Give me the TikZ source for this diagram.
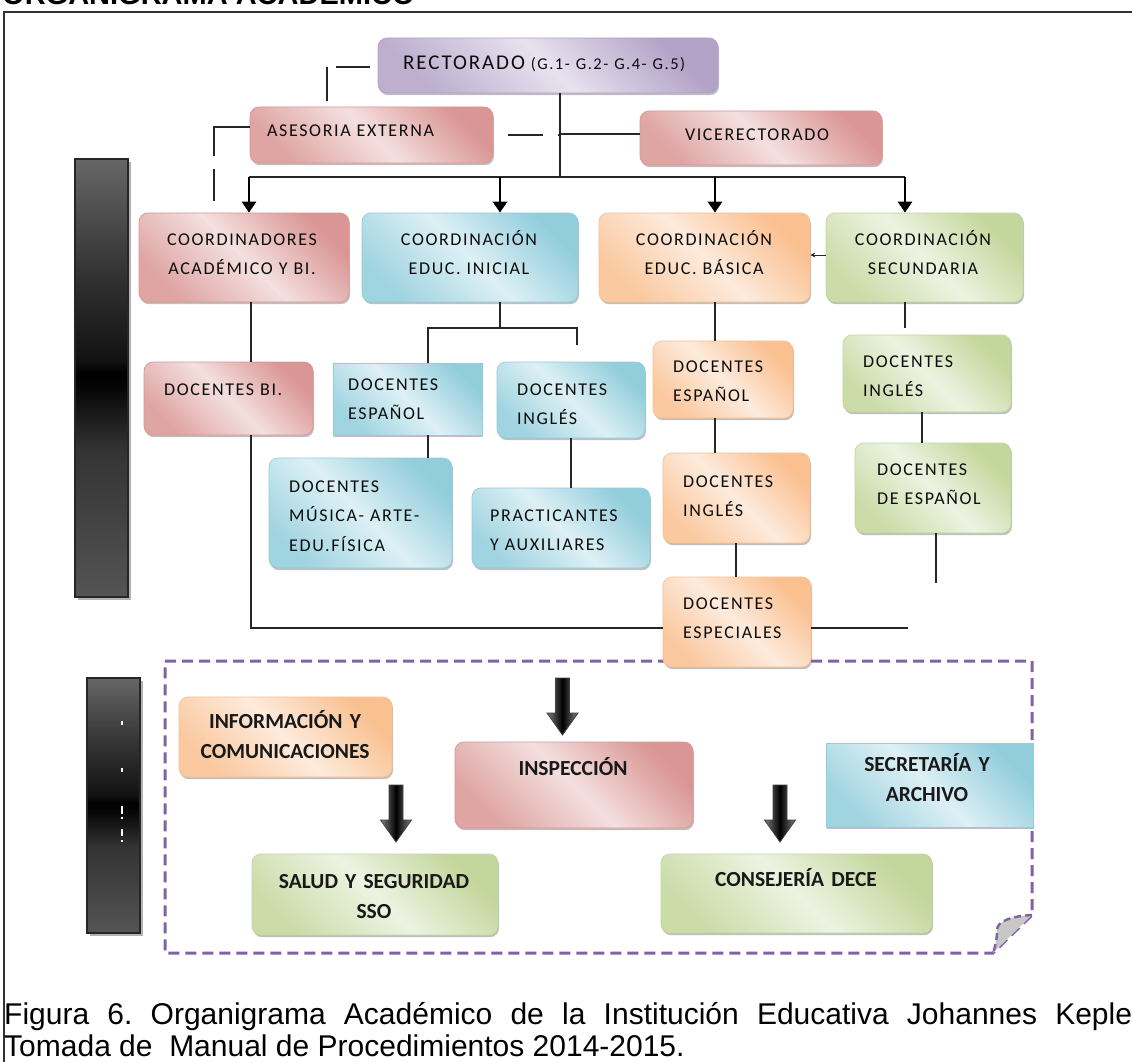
\documentclass[tikz,border=0pt]{standalone}
\usepackage{fontspec}
\setmainfont{Liberation Sans}
\newfontfamily\cfont[LetterSpace=9]{Carlito}
\newfontfamily\cbfont{Carlito}
\usetikzlibrary{arrows.meta,shadows}
\definecolor{purL}{HTML}{E8E2EF}\definecolor{purD}{HTML}{B3A2C7}
\definecolor{redL}{HTML}{F4E0DF}\definecolor{redD}{HTML}{D99694}
\definecolor{bluL}{HTML}{DDF0F5}\definecolor{bluD}{HTML}{92CDDC}
\definecolor{orgL}{HTML}{FDEBDD}\definecolor{orgD}{HTML}{FAC090}
\definecolor{grnL}{HTML}{EDF3E2}\definecolor{grnD}{HTML}{C3D69B}
\definecolor{frm}{HTML}{8064A2}
\pgfdeclareverticalshading{barshade}{100bp}{color(0bp)=(black!67); color(25bp)=(black!67); color(42bp)=(black!80); color(49bp)=(black!98); color(50.5bp)=(black); color(52bp)=(black!93); color(62bp)=(black!80); color(75bp)=(black!60); color(100bp)=(black!60)}
\tikzset{
  bx/.style={inner sep=0pt, rounded corners=9pt, line width=0.7pt,
    drop shadow={shadow xshift=1pt, shadow yshift=-2.2pt, fill=black!55, opacity=0.45}},
  fPur/.style={bx, draw=purD, left color=purD!80!purL, right color=purD, middle color=purL, shading angle=135},
  fRed/.style={bx, draw=redD, left color=redD!80!redL, right color=redD, middle color=redL, shading angle=135},
  fBlu/.style={bx, draw=bluD, left color=bluD!80!bluL, right color=bluD, middle color=bluL, shading angle=135},
  fOrg/.style={bx, draw=orgD, left color=orgD!80!orgL, right color=orgD, middle color=orgL, shading angle=135},
  fGrn/.style={bx, draw=grnD, left color=grnD!80!grnL, right color=grnD, middle color=grnL, shading angle=135},
  tl/.style={font=\cfont\fontsize{18}{29.5}\selectfont, text=black!95, inner sep=0pt, anchor=base west, align=left, text width=190pt},
  tc/.style={font=\cfont\fontsize{18}{29.5}\selectfont, text=black!95, inner sep=0pt, anchor=base, align=center, text width=220pt},
  tb/.style={font=\cbfont\bfseries\fontsize{21.5}{30.5}\selectfont, text=black!90, inner sep=0pt, anchor=base, align=center, text width=260pt},
  conn/.style={draw=black!85, line width=1.3pt},
  dashconn/.style={draw=black!85, line width=1.3pt},
  bigarr/.style={draw=black, line width=2.6pt, -{Triangle[width=14pt,length=11pt]}},
  blkarr/.pic={\path[draw=black!75, line width=0.8pt, left color=black!50, right color=black!50, middle color=black]
     (-7,0) -- (7,0) -- (7,35) -- (15.5,35) -- (0,57) -- (-15.5,35) -- (-7,35) -- cycle;},
  bar/.style={draw=black!85, line width=1.5pt, shading=barshade}
}
\begin{document}
\begin{tikzpicture}[x=1pt,y=-1pt]
\useasboundingbox (0,0) rectangle (1132,1062);
\fill[white] (0,0) rectangle (1132,1062);
% title (cut at top) and outer frame
\node[anchor=base west, inner sep=0pt, font=\bfseries\fontsize{29}{32}\selectfont] (title) at (2,5) {ORGANIGRAMA ACADÉMICO};
\draw[black!80, line width=1.4pt] (1140,12) -- (4,12) -- (4,1070);
% left bars
\fill[black!30] (78,162) rectangle (131,600);
\path[bar] (75,159) rectangle (128,597);
\fill[black!30] (90,681) rectangle (143,936);
\path[bar] (87,678) rectangle (140,933);
\foreach \a/\b in {721/725, 768/772, 806/814, 817/819, 829/836, 840/842}
  \draw[white, line width=1.3pt] (122,\a) -- (122,\b);
% purple dashed frame with folded corner
\draw[draw=frm, line width=3pt, dash pattern=on 11pt off 6pt] (165,661) -- (1032,661) -- (1032,915) -- (993,953) -- (165,953) -- cycle;
\filldraw[fill=black!22, draw=frm, line width=2.4pt, dash pattern=on 7pt off 4pt] (1032,915) .. controls (1012,916) and (997,921) .. (997,930) .. controls (997,940) and (995,947) .. (993,953);
% boxes
\node[fPur, minimum width=340pt, minimum height=55pt] (rect) at (548,65.5) {};
\node[fRed, minimum width=243pt, minimum height=56pt] (ases) at (371.5,135) {};
\node[fRed, minimum width=242pt, minimum height=54pt] (vice) at (761,138) {};
\node[fRed, minimum width=210pt, minimum height=89pt] (coac) at (244,257.5) {};
\node[fBlu, minimum width=216pt, minimum height=89pt] (coin) at (470,257.5) {};
\node[fOrg, minimum width=211pt, minimum height=89pt] (coba) at (704.5,257.5) {};
\node[fGrn, minimum width=197pt, minimum height=89pt] (cose) at (924.5,257.5) {};
\node[fRed, minimum width=169pt, minimum height=73pt] (dbi) at (228.5,398.5) {};
\node[fBlu, sharp corners, minimum width=149pt, minimum height=72pt] (desb) at (407.5,399) {};
\node[fBlu, minimum width=148pt, minimum height=76pt] (dinb) at (571,400) {};
\node[fBlu, minimum width=183pt, minimum height=110pt] (dmus) at (360.5,513) {};
\node[fBlu, minimum width=178pt, minimum height=80pt] (dpra) at (561,528) {};
\node[fOrg, minimum width=140pt, minimum height=77pt] (deso) at (723,379.5) {};
\node[fOrg, minimum width=147pt, minimum height=90pt] (dino) at (736.5,498) {};
\node[fOrg, minimum width=148pt, minimum height=90pt] (desp) at (737,622) {};
\node[fGrn, minimum width=168pt, minimum height=77pt] (ding) at (927,373.5) {};
\node[fGrn, minimum width=156pt, minimum height=90pt] (desg) at (933,488) {};
\node[fOrg, minimum width=213pt, minimum height=80pt] (info) at (285.5,737) {};
\node[fRed, minimum width=238pt, minimum height=86pt] (insp) at (574,785) {};
\node[fBlu, sharp corners, minimum width=207pt, minimum height=84pt] (secr) at (929.5,785) {};
\node[fGrn, minimum width=246pt, minimum height=81pt] (salud) at (375,894.5) {};
\node[fGrn, minimum width=271pt, minimum height=79pt] (cons) at (796.5,893.5) {};
% labels
\node[tl, text width=320pt] (rect-t) at (403,70) {{\fontsize{21}{24}\selectfont RECTORADO} {\fontsize{16.5}{20}\selectfont (G.1- G.2- G.4- G.5)}};
\node[tl] (ases-t) at (267,137) {ASESORIA EXTERNA};
\node[tc] (vice-t) at (757,141) {VICERECTORADO};
\node[tc] (coac-t) at (242,245) {COORDINADORES\\ACADÉMICO Y BI.};
\node[tc] (coin-t) at (469,245) {COORDINACIÓN\\EDUC. INICIAL};
\node[tc] (coba-t) at (704,245) {COORDINACIÓN\\EDUC. BÁSICA};
\node[tc] (cose-t) at (923,245) {COORDINACIÓN\\SECUNDARIA};
\node[tl] (dbi-t) at (164,395) {DOCENTES BI.};
\node[tl] (desb-t) at (348,390) {DOCENTES\\ESPAÑOL};
\node[tl] (dinb-t) at (517,395) {DOCENTES\\INGLÉS};
\node[tl] (dmus-t) at (289,492) {DOCENTES\\MÚSICA- ARTE-\\EDU.FÍSICA};
\node[tl] (dpra-t) at (490,521) {PRACTICANTES\\Y AUXILIARES};
\node[tl] (deso-t) at (673,372) {DOCENTES\\ESPAÑOL};
\node[tl] (dino-t) at (683,487) {DOCENTES\\INGLÉS};
\node[tl] (desp-t) at (683,609) {DOCENTES\\ESPECIALES};
\node[tl] (ding-t) at (863,367) {DOCENTES\\INGLÉS};
\node[tl] (desg-t) at (877,475) {DOCENTES\\DE ESPAÑOL};
\node[tb] (info-t) at (285,728) {INFORMACIÓN Y\\COMUNICACIONES};
\node[tb] (insp-t) at (573,775) {INSPECCIÓN};
\node[tb] (secr-t) at (927,771) {SECRETARÍA Y\\ARCHIVO};
\node[tb] (salud-t) at (374,888) {SALUD Y SEGURIDAD\\SSO};
\node[tb] (cons-t) at (796,886) {CONSEJERÍA DECE};
% block arrows
\pic (ar1) at (396,785) {blkarr};
\pic (ar2) at (562.5,678) {blkarr};
\pic (ar3) at (780,785) {blkarr};
% helper coordinates
\coordinate (t0) at (560,177);
\coordinate (v0) at (560,134);
\coordinate (b1) at (249,177);
\coordinate (b2) at (500,177);
\coordinate (b3) at (715,177);
\coordinate (b4) at (905,177);
\coordinate (x1) at (251,628);
\coordinate (x2) at (908,628);
\coordinate (s1) at (500,328);
\coordinate (s2) at (428,328);
\coordinate (f1) at (577,345);
\coordinate (x4) at (571,440);
\coordinate (x5) at (715,300);
\coordinate (x6) at (736,560);
\coordinate (f2) at (905,328);
\coordinate (x7) at (922,430);
\coordinate (f3) at (936,583);
% connectors
\draw[conn] (t0 |- rect.south) -- (t0);
\draw[conn] (v0) -- (v0 -| vice.west);
\draw[conn] (b1) -- (b4);
\draw[bigarr] (b1) -- (b1 |- coac.north);
\draw[bigarr] (b2) -- (b2 |- coin.north);
\draw[bigarr] (b3) -- (b3 |- coba.north);
\draw[bigarr] (b4) -- (b4 |- cose.north);
\draw[dashconn, dash pattern=on 34pt off 9pt, dash phase=35pt] ([yshift=-1.5pt]rect.west) -| ([xshift=-44.5pt]ases.north);
\draw[dashconn, dash pattern=on 65pt off 13pt on 32pt off 30pt] ([yshift=8pt]ases.west) -| ([xshift=-30pt]coac.north);
\draw[dashconn, dash pattern=on 35pt off 15pt, dash phase=35pt] (ases.east) -- (ases.east -| t0);
\draw[conn, line width=1pt, -{Stealth[length=5pt,width=5pt]}] ([yshift=2.5pt]cose.west) -- ([yshift=2.5pt]coba.east);
\draw[conn] (coac.south -| x1) -- (dbi.north -| x1);
\draw[conn] (dbi.south -| x1) -- (x1) -- (x1 -| desp.west);
\draw[conn] (x2 -| desp.east) -- (x2);
\draw[conn] (coin.south -| s1) -- (s1);
\draw[conn] (s2 |- desb.north) -- (s2) -- (s2 -| f1) -- (f1);
\draw[conn] (desb.south -| s2) -- (dmus.north -| s2);
\draw[conn] (dinb.south -| x4) -- (dpra.north -| x4);
\draw[conn] (coba.south -| x5) -- (deso.north -| x5);
\draw[conn] (deso.south -| x5) -- (dino.north -| x5);
\draw[conn] (dino.south -| x6) -- (desp.north -| x6);
\draw[conn] (cose.south -| f2) -- (f2);
\draw[conn] (ding.south -| x7) -- (desg.north -| x7);
\draw[conn] (desg.south -| f3) -- (f3);
% caption
\node[anchor=base west, inner sep=0pt, font=\frenchspacing\fontsize{30}{33}\selectfont] (cap1) at (4,1024) {\makebox[1128pt][s]{Figura 6. Organigrama Académico de la Institución Educativa Johannes Keple}};
\node[anchor=base west, inner sep=0pt, font=\frenchspacing\fontsize{30}{33}\selectfont] (cap2) at (4,1056) {Tomada de\ \ Manual de Procedimientos 2014-2015.};
\end{tikzpicture}
\end{document}
